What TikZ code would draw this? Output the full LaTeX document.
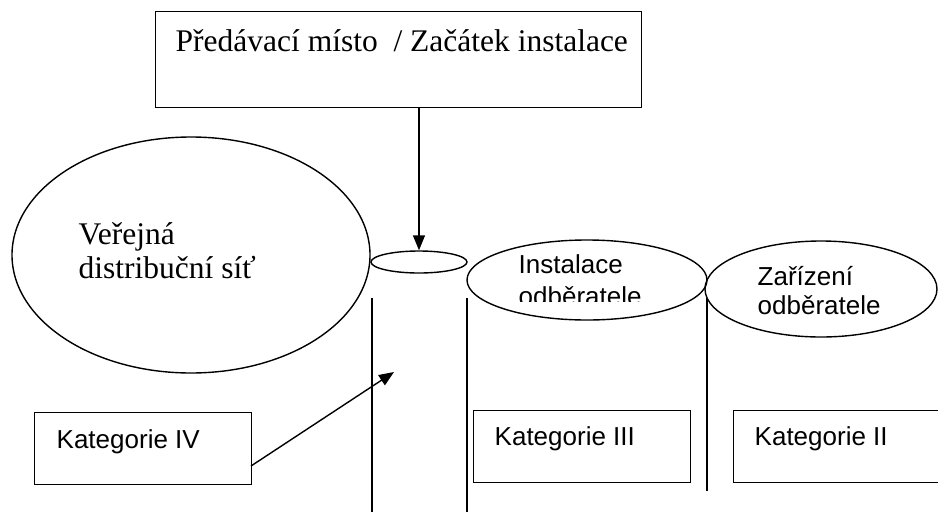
\documentclass[tikz,border=0pt]{standalone}
\usepackage{fontspec}
\setmainfont{Liberation Serif}
\setsansfont{Liberation Sans}
\usetikzlibrary{arrows.meta,shapes.geometric}
\begin{document}
\begin{tikzpicture}[x=1pt,y=-1pt,
  line width=1.4pt,
  boxshape/.style={draw, rectangle, anchor=north west, inner sep=0pt},
  ellshape/.style={draw, ellipse, inner sep=0pt},
  serifl/.style={anchor=base west, inner sep=0pt, font=\fontsize{31.5}{34}\selectfont},
  sansl/.style={anchor=base west, inner sep=0pt, font=\sffamily\fontsize{26}{29}\selectfont},
  tip/.style={-{Triangle[length=15pt,width=12pt]}}]
\useasboundingbox (0,0) rectangle (938,512);
\clip (0,0) rectangle (938,512);
% top box
\node[boxshape, minimum width=486pt, minimum height=96pt] (top) at (155,11) {};
\node[serifl] (toptext) at (175,51) {Předávací místo \ / Začátek instalace};
% public network ellipse
\node[ellshape, minimum width=358pt, minimum height=236pt] (net) at (191,255) {};
\node[serifl] (nettext1) at (78,244) {Veřejná};
\node[serifl] (nettext2) at (78,278) {distribuční síť};
% small ellipse
\node[ellshape, minimum width=96pt, minimum height=22pt] (pt) at (419,262) {};
\draw[tip] (top.south -| pt.north) -- (pt.north);
% Instalace ellipse
\node[ellshape, minimum width=240pt, minimum height=80pt] (inst) at (587,280) {};
\node[sansl] (insttext1) at (518,273) {Instalace};
\begin{scope}
\clip (470,280) rectangle (705,301.5);
\node[sansl] (insttext2) at (518,305) {odběratele};
\end{scope}
% Zarizeni ellipse
\node[ellshape, minimum width=232pt, minimum height=96pt] (zar) at (821,289) {};
\node[sansl] (zartext1) at (757,285) {Zařízení};
\node[sansl] (zartext2) at (757,314) {odběratele};
% vertical lines
\coordinate (v1t) at (372,298); \coordinate (v1b) at (372,512);
\coordinate (v2t) at (467,298); \coordinate (v2b) at (467,512);
\coordinate (v3t) at (707,298); \coordinate (v3b) at (707,491);
\draw (v1t) -- (v1b);
\draw (v2t) -- (v2b);
\draw (v3t) -- (v3b);
% category boxes
\node[boxshape, minimum width=217pt, minimum height=72pt] (k4) at (34,412) {};
\node[sansl] (k4text) at (56,448) {Kategorie IV};
\node[boxshape, minimum width=217pt, minimum height=72pt] (k3) at (473,410) {};
\node[sansl] (k3text) at (494,445) {Kategorie III};
\node[boxshape, minimum width=230pt, minimum height=72pt] (k2) at (733,410) {};
\node[sansl] (k2text) at (754,445) {Kategorie II};
% arrow from category IV
\coordinate (k4out) at (251,466);
\coordinate (k4tip) at (394,372);
\draw[tip] (k4out) -- (k4tip);
\end{tikzpicture}
\end{document}
